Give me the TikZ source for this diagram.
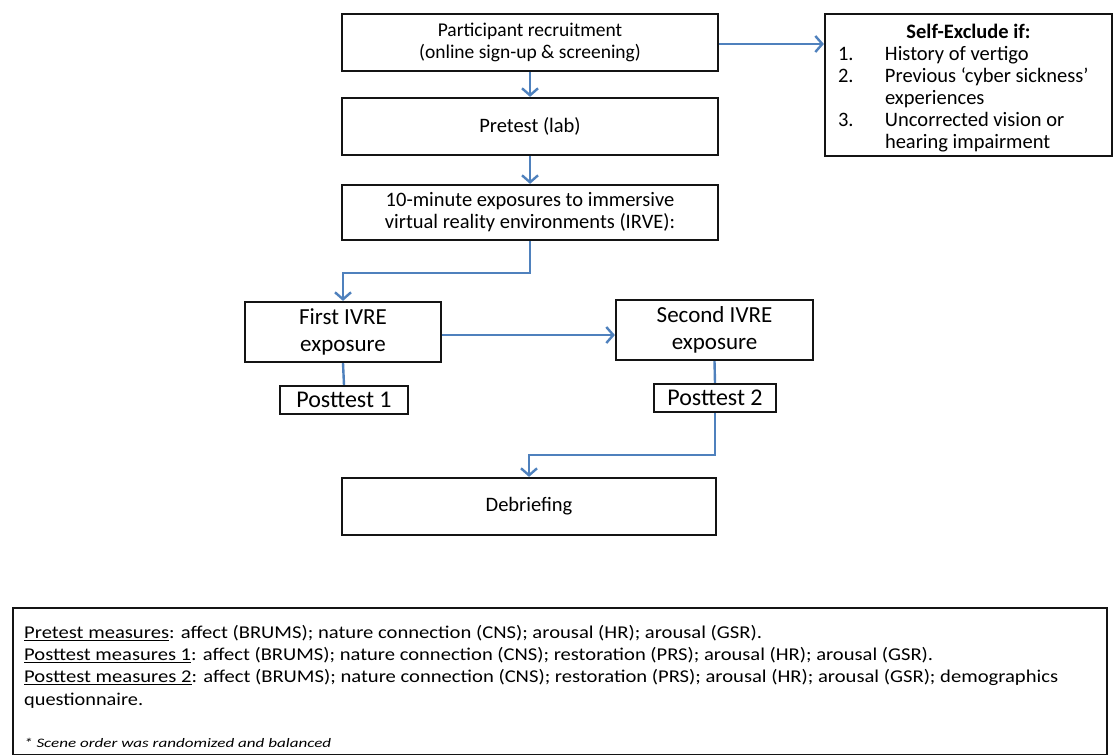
\documentclass[tikz,border=0pt]{standalone}
\usepackage{fontspec}
\setmainfont{Carlito}
\usepackage{graphicx}
\usepackage{xcolor}
\usepackage{tikz}
\usetikzlibrary{arrows.meta}
\definecolor{FlowBlue}{RGB}{79,129,189}
\definecolor{BoxLine}{RGB}{20,20,20}
% one condensed line of the measures box, stretched to a given width
\newcommand{\measline}[2]{\resizebox{#1}{\height}{#2}}

\tikzset{
  flowbox/.style={draw=BoxLine,line width=2.2pt,align=center,inner sep=2pt},
  flowline/.style={draw=FlowBlue,line width=2.4pt},
  flowarrow/.style={flowline,-{Straight Barb[length=7pt,width=16pt,line width=2.4pt]}}
}

\begin{document}
\begin{tikzpicture}[x=1pt,y=-1pt]
  \useasboundingbox (0,0) rectangle (1114,755);

  % main column
  \node[flowbox,minimum width=376pt,minimum height=57pt,font=\fontsize{19.5}{22}\selectfont]
    (recruit) at (530,42.5) {Participant recruitment\\(online sign-up \& screening)};
  \node[flowbox,minimum width=376pt,minimum height=57pt,font=\fontsize{20.5}{22}\selectfont]
    (pretest) at (530,126.5) {Pretest (lab)};
  \node[flowbox,minimum width=376pt,minimum height=55pt,font=\fontsize{20.5}{22}\selectfont]
    (irve) at (530,212.5) {10-minute exposures to immersive\\virtual reality environments (IRVE):};

  % exclusion criteria
  \node[flowbox,minimum width=287pt,minimum height=142pt] (exclude) at (968.5,85) {};
  \node[font=\fontsize{20.5}{22}\selectfont,inner sep=0pt] (exctext) at (968.5,89.5) {%
      \begin{tabular}{@{}p{47pt}@{}p{214pt}@{}}
        \multicolumn{2}{c}{\textbf{Self-Exclude if:}}\\
        1. & History of vertigo\\
        2. & Previous ‘cyber sickness’\\
           & experiences\\
        3. & Uncorrected vision or\\
           & hearing impairment
      \end{tabular}};

  % the two exposures
  \node[flowbox,minimum width=196pt,minimum height=60pt,font=\fontsize{23}{27}\selectfont]
    (first) at (343,332) {First IVRE\\exposure};
  \node[flowbox,minimum width=197pt,minimum height=60pt,font=\fontsize{23}{27}\selectfont]
    (second) at (714.5,330) {Second IVRE\\exposure};
  \node[flowbox,minimum width=128pt,minimum height=28pt,inner sep=0pt,font=\fontsize{24}{24}\selectfont]
    (post1) at (344,400) {Posttest 1};
  \node[flowbox,minimum width=122pt,minimum height=28pt,inner sep=0pt,font=\fontsize{24}{24}\selectfont]
    (post2) at (715,398) {Posttest 2};

  \node[flowbox,minimum width=374pt,minimum height=57pt,font=\fontsize{20.5}{22}\selectfont]
    (debrief) at (529,506.5) {Debriefing};

  % measures
  \node[draw=BoxLine,line width=2.2pt,minimum width=1094pt,minimum height=147pt,
        anchor=north west,inner sep=0pt] (measures) at (12,607) {};
  \node[anchor=north west,align=left,inner sep=0pt,
        font=\fontsize{18}{22.3}\selectfont] (mtext) at (24,625) {%
    \measline{738pt}{\underline{Pretest measures}: affect (BRUMS); nature connection (CNS); arousal (HR); arousal (GSR).}\\
    \measline{909pt}{\underline{Posttest measures 1}: affect (BRUMS); nature connection (CNS); restoration (PRS); arousal (HR); arousal (GSR).}\\
    \measline{1034pt}{\underline{Posttest measures 2}: affect (BRUMS); nature connection (CNS); restoration (PRS); arousal (HR); arousal (GSR); demographics}\\
    \measline{119pt}{questionnaire.}\\[20pt]
    \measline{307pt}{\fontsize{13}{14}\selectfont\itshape * Scene order was randomized and balanced}};

  % connectors
  \draw[flowarrow] (recruit.east |- 0,44) -- (exclude.west |- 0,44);
  \draw[flowarrow] (recruit) -- (pretest);
  \draw[flowarrow] (pretest) -- (irve);
  \draw[flowarrow] (irve.south) -- ++(0,32) -| (first.north);
  \draw[flowarrow] (first.east |- 0,335) -- (second.west |- 0,335);
  \draw[flowline] (first.south) -- (post1.north);
  \draw[flowline] (second.south) -- (post2.north);
  \draw[flowarrow] (post2.south) -- ++(0,42) -| (debrief.north);
\end{tikzpicture}
\end{document}
